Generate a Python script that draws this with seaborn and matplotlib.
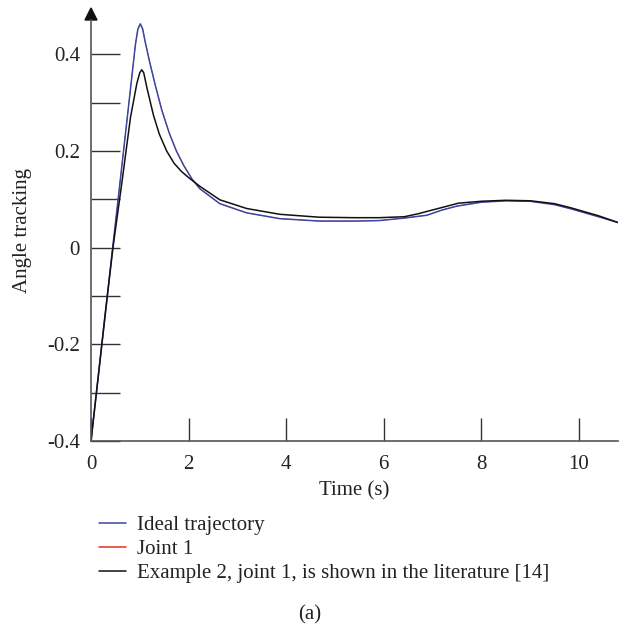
import numpy as np
import pandas as pd
import matplotlib
matplotlib.use("Agg")
import matplotlib.pyplot as plt
from matplotlib.patches import Polygon
from matplotlib.lines import Line2D
import seaborn as sns

# ---- data ----
t_ideal = [0.0, 0.3, 0.6, 0.75, 0.91, 0.96, 1.01, 1.06, 1.11, 1.2, 1.32, 1.45, 1.6, 1.75,
           1.9, 2.07, 2.23, 2.64, 3.19, 3.87, 4.68, 5.4, 5.9, 6.4, 6.88, 7.2, 7.5, 8.0, 8.5,
           9.0, 9.5, 9.85, 10.4, 10.8]
ideal = [-0.4, -0.13, 0.14, 0.275, 0.42, 0.452, 0.463, 0.452, 0.426, 0.385, 0.335, 0.285,
         0.238, 0.2, 0.17, 0.142, 0.122, 0.091, 0.072, 0.060, 0.055, 0.055, 0.056, 0.061,
         0.067, 0.078, 0.086, 0.094, 0.097, 0.096, 0.089, 0.080, 0.064, 0.052]

t_joint1 = t_ideal
joint1 = ideal

t_lit = [0.0, 0.3, 0.45, 0.64, 0.81, 0.94, 1.0, 1.04, 1.08, 1.15, 1.28, 1.4, 1.55, 1.7,
         1.85, 2.0, 2.23, 2.64, 3.19, 3.87, 4.68, 5.4, 5.9, 6.42, 6.7, 7.0, 7.53, 8.0, 8.5,
         9.0, 9.5, 9.85, 10.4, 10.8]
lit = [-0.4, -0.13, 0.0, 0.14, 0.27, 0.34, 0.362, 0.368, 0.362, 0.329, 0.274, 0.235, 0.2,
       0.175, 0.158, 0.145, 0.127, 0.099, 0.081, 0.069, 0.063, 0.062, 0.062, 0.064, 0.070,
       0.078, 0.092, 0.096, 0.098, 0.097, 0.091, 0.082, 0.066, 0.052]

labels = ["Ideal trajectory", "Joint 1", "Example 2, joint 1, is shown in the literature [14]"]
colors = ["#3b47a3", "#e8301c", "#111111"]

y_major = [-0.4, -0.2, 0.0, 0.2, 0.4]
y_major_lbl = ["-0.4", "-0.2", "0", "0.2", "0.4"]
y_minor = [-0.3, -0.1, 0.1, 0.3]
x_major = [0, 2, 4, 6, 8, 10]

# ---- plot ----
sns.set_theme(style="white")
plt.rcParams["font.family"] = ["Liberation Serif", "DejaVu Serif"]

fig = plt.figure(figsize=(6.2, 6.31), dpi=100)
ax = fig.add_axes([91 / 620, 1 - 441 / 631, 527 / 620, 421 / 631])

df_j = pd.DataFrame({"t": t_joint1, "v": joint1})
df_i = pd.DataFrame({"t": t_ideal, "v": ideal})
df_l = pd.DataFrame({"t": t_lit, "v": lit})
sns.lineplot(data=df_j, x="t", y="v", ax=ax, color=colors[1], lw=0.5, sort=False)
sns.lineplot(data=df_i, x="t", y="v", ax=ax, color=colors[0], lw=1.1, sort=False)
sns.lineplot(data=df_l, x="t", y="v", ax=ax, color=colors[2], lw=1.1, sort=False)

ax.set_xlim(0, 10.8)
ax.set_ylim(-0.4, 0.471)

for s in ["top", "right"]:
    ax.spines[s].set_visible(False)
for s in ["left", "bottom"]:
    ax.spines[s].set_color("#555555")
    ax.spines[s].set_linewidth(1.2)

ax.set_yticks(y_major)
ax.set_yticklabels(y_major_lbl)
ax.set_yticks(y_minor, minor=True)
ax.set_xticks(x_major)
ax.set_xticklabels([str(v) for v in x_major])
ax.tick_params(axis="y", which="both", direction="in", length=21, width=1.0,
               color="#333333", left=True, labelsize=15, pad=8, labelcolor="#222222")
ax.tick_params(axis="x", which="major", direction="in", length=16.5, width=1.0,
               color="#333333", bottom=True, labelsize=15, pad=10, labelcolor="#222222")

ax.set_xlabel("Time (s)", fontsize=15, color="#222222", labelpad=5)
ax.set_ylabel("Angle tracking", fontsize=15, color="#222222", labelpad=11)

# arrow head on the y axis
hw = 6 / 527
hh = 12 / 421
tri = Polygon([(-hw, 1.0), (hw, 1.0), (0, 1.0 + hh)], closed=True,
              transform=ax.transAxes, clip_on=False, color="#111111")
ax.add_patch(tri)

handles = [Line2D([], [], color=c, lw=1.1) for c in colors]
fig.legend(handles, labels, loc="upper left", bbox_to_anchor=(80 / 620, 1 - 497 / 631),
           frameon=False, fontsize=15, handlelength=1.3, handletextpad=0.55,
           labelspacing=0.2, labelcolor="#222222")

fig.text(310 / 620, 1 - 615 / 631, "(a)", ha="center", va="center", fontsize=15, color="#222222")

fig.savefig("out.png", dpi=100)
